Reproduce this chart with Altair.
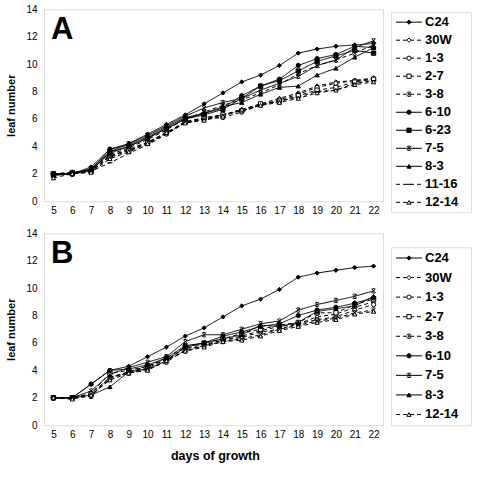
import altair as alt
import pandas as pd

days = list(range(5, 23))

# Panel A lines
series_a = ["C24", "30W", "1-3", "2-7", "3-8", "6-10", "6-23", "7-5", "8-3", "11-16", "12-14"]
a_c24 = [2.0, 2.0, 2.5, 3.8, 4.2, 4.9, 5.6, 6.3, 7.1, 7.9, 8.7, 9.2, 9.9, 10.8, 11.1, 11.3, 11.4, 11.5]
a_30w = [2.0, 2.0, 2.2, 3.3, 3.8, 4.3, 5.0, 5.8, 6.0, 6.3, 6.7, 7.1, 7.5, 7.9, 8.4, 8.7, 8.8, 9.0]
a_1_3 = [2.0, 2.1, 2.2, 3.2, 3.7, 4.2, 4.9, 5.8, 6.0, 6.1, 6.5, 7.0, 7.4, 7.8, 8.3, 8.6, 8.8, 8.9]
a_2_7 = [2.0, 2.1, 2.2, 3.3, 3.7, 4.3, 5.0, 5.8, 6.1, 6.3, 6.6, 7.1, 7.3, 7.7, 8.1, 8.3, 8.7, 8.9]
a_3_8 = [2.0, 2.0, 2.3, 3.4, 3.9, 4.5, 5.2, 6.0, 6.5, 7.0, 7.4, 7.9, 8.5, 9.3, 9.9, 10.3, 10.8, 11.4]
a_6_10 = [2.0, 2.0, 2.3, 3.8, 4.1, 4.7, 5.4, 6.1, 6.4, 6.8, 7.7, 8.4, 8.9, 9.9, 10.4, 10.7, 11.3, 11.2]
a_6_23 = [1.9, 2.0, 2.2, 3.6, 4.0, 4.6, 5.3, 6.0, 6.3, 6.7, 7.5, 8.4, 8.8, 9.5, 10.2, 10.6, 11.0, 10.8]
a_7_5 = [2.0, 2.0, 2.4, 3.6, 4.2, 4.8, 5.5, 6.2, 6.8, 7.2, 7.5, 8.1, 8.6, 9.1, 9.9, 10.3, 11.2, 11.7]
a_8_3 = [1.9, 2.0, 2.3, 3.5, 4.0, 4.6, 5.3, 6.0, 6.4, 6.9, 7.2, 7.8, 8.3, 8.4, 9.2, 9.7, 10.5, 11.2]
a_11_16 = [2.0, 2.0, 2.2, 2.8, 3.5, 4.1, 4.9, 5.7, 6.0, 6.3, 6.6, 7.0, 7.3, 7.6, 8.0, 8.1, 8.6, 8.8]
a_12_14 = [1.7, 2.0, 2.1, 3.1, 3.6, 4.2, 5.0, 5.7, 5.9, 6.2, 6.7, 7.0, 7.2, 7.5, 7.9, 8.1, 8.5, 8.7]
values_a = [a_c24, a_30w, a_1_3, a_2_7, a_3_8, a_6_10, a_6_23, a_7_5, a_8_3, a_11_16, a_12_14]

# Panel B lines
series_b = ["C24", "30W", "1-3", "2-7", "3-8", "6-10", "7-5", "8-3", "12-14"]
b_c24 = [2.0, 2.0, 3.0, 4.0, 4.3, 5.0, 5.7, 6.5, 7.1, 7.9, 8.7, 9.2, 9.9, 10.8, 11.1, 11.3, 11.5, 11.6]
b_30w = [2.0, 2.0, 2.3, 3.5, 3.9, 4.3, 4.8, 5.6, 5.9, 6.2, 6.5, 6.9, 7.2, 7.4, 7.9, 8.1, 8.6, 9.0]
b_1_3 = [2.0, 2.0, 2.2, 3.4, 3.9, 4.2, 4.8, 5.4, 5.8, 6.2, 6.4, 6.8, 7.0, 7.4, 7.7, 7.9, 8.4, 8.8]
b_2_7 = [2.0, 2.0, 2.3, 3.8, 4.0, 4.3, 4.9, 5.7, 6.0, 6.3, 6.7, 7.0, 7.3, 7.5, 8.2, 8.2, 8.8, 9.2]
b_3_8 = [2.0, 2.0, 2.1, 3.5, 3.8, 4.1, 4.6, 5.5, 5.8, 6.1, 6.3, 6.6, 7.0, 7.3, 7.6, 7.8, 8.2, 8.4]
b_6_10 = [2.0, 2.0, 3.0, 4.0, 4.1, 4.4, 4.9, 5.8, 6.0, 6.5, 6.8, 7.2, 7.4, 8.0, 8.4, 8.6, 8.9, 9.3]
b_7_5 = [2.0, 2.0, 2.5, 3.7, 4.2, 4.6, 5.0, 6.1, 6.6, 6.6, 7.0, 7.4, 7.6, 8.4, 8.8, 9.1, 9.4, 9.8]
b_8_3 = [2.0, 2.0, 2.2, 2.8, 3.9, 4.1, 4.7, 5.7, 6.0, 6.3, 6.6, 7.3, 7.2, 7.5, 8.3, 8.5, 8.7, 9.4]
b_12_14 = [2.0, 1.9, 2.2, 3.3, 3.8, 4.0, 4.7, 5.4, 5.7, 6.1, 6.2, 6.5, 6.9, 7.2, 7.5, 7.7, 8.1, 8.3]
values_b = [b_c24, b_30w, b_1_3, b_2_7, b_3_8, b_6_10, b_7_5, b_8_3, b_12_14]

y_ticks = [0, 2, 4, 6, 8, 10, 12, 14]

# marker glyphs
X_PATH = "M-1,-1L1,1M-1,1L1,-1M-0.6,-1L0.6,-1M-0.6,1L0.6,1"
DASH_PATH = "M-1.2,0L1.2,0"
SOLID = [1, 0]
DASHED = [4, 3]

styles = {
    "C24":   dict(shape="diamond", fill="black", size=18, dash=SOLID),
    "30W":   dict(shape="diamond", fill="white", size=18, dash=DASHED),
    "1-3":   dict(shape="circle", fill="white", size=16, dash=DASHED),
    "2-7":   dict(shape="square", fill="white", size=16, dash=DASHED),
    "3-8":   dict(shape=X_PATH, fill="white", size=14, dash=DASHED),
    "6-10":  dict(shape="circle", fill="black", size=20, dash=SOLID),
    "6-23":  dict(shape="square", fill="black", size=70, dash=SOLID),
    "7-5":   dict(shape=X_PATH, fill="white", size=14, dash=SOLID),
    "8-3":   dict(shape="triangle-up", fill="black", size=16, dash=SOLID),
    "11-16": dict(shape=DASH_PATH, fill="black", size=16, dash=DASHED),
    "12-14": dict(shape="triangle-up", fill="white", size=16, dash=DASHED),
}
styles_b_override = {"1-3": dict(shape="triangle-up", fill="white", size=16, dash=DASHED),
                     "2-7": dict(shape="square", fill="white", size=18, dash=SOLID)}

FONT = "Liberation Sans"


def long_frame(names, vals):
    rows = []
    for name, ys in zip(names, vals):
        for d, v in zip(days, ys):
            rows.append({"series": name, "day": d, "leaf": v})
    return pd.DataFrame(rows)


def encodings(names, st):
    return dict(
        strokeDash=alt.StrokeDash("series:N", scale=alt.Scale(domain=names, range=[st[n]["dash"] for n in names]), legend=None),
        shape=alt.Shape("series:N", scale=alt.Scale(domain=names, range=[st[n]["shape"] for n in names]), legend=None),
        fill=alt.Fill("series:N", scale=alt.Scale(domain=names, range=[st[n]["fill"] for n in names]), legend=None),
        size=alt.Size("series:N", scale=alt.Scale(domain=names, range=[st[n]["size"] for n in names]), legend=None),
    )


def panel(names, vals, letter, st):
    df = long_frame(names, vals)
    enc = encodings(names, st)
    x = alt.X("day:Q", scale=alt.Scale(domain=[4.5, 22.5], nice=False),
              axis=alt.Axis(values=days, labelPadding=4, title=None, grid=False, ticks=False,
                            domain=False, labelOverlap=False, labelFlush=False))
    y = alt.Y("leaf:Q", scale=alt.Scale(domain=[0, 14], nice=False),
              axis=alt.Axis(values=y_ticks, title="leaf number", titlePadding=9, labelPadding=7,
                            grid=False, ticks=False, domain=False,
                            labelOverlap=False, labelFlush=False))
    # both layers share one x/y definition, so the axes are identical
    base = alt.Chart(df).encode(x=x, y=y)
    lines = base.mark_line(color="black", strokeWidth=1).encode(
        detail="series:N", strokeDash=enc["strokeDash"])
    pts = base.mark_point(stroke="black", strokeWidth=1, opacity=1, filled=False).encode(
        shape=enc["shape"], fill=enc["fill"], size=enc["size"])
    tag = alt.Chart(pd.DataFrame({"t": [letter]})).mark_text(
        font=FONT, fontSize=31, fontWeight="bold", align="left", baseline="top", color="black"
    ).encode(text="t:N", x=alt.value(7), y=alt.value(6))
    return alt.layer(lines, pts, tag).properties(width=339, height=192)


def legend(names, st, height, pad):
    df = pd.DataFrame({"series": names})
    enc = encodings(names, st)
    y = alt.Y("series:N", sort=names, scale=alt.Scale(type="point", padding=pad), axis=None)
    base = alt.Chart(df)
    seg = base.mark_rule(color="black", strokeWidth=1).encode(
        x=alt.value(5), x2=alt.value(31), y=y, strokeDash=enc["strokeDash"])
    mk = base.mark_point(stroke="black", strokeWidth=1, opacity=1, filled=False).encode(
        x=alt.value(18), y=y, shape=enc["shape"], fill=enc["fill"], size=enc["size"])
    lbl = base.mark_text(font=FONT, fontSize=13, fontWeight="bold", align="left",
                         baseline="middle", color="black").encode(
        x=alt.value(34), y=y, text="series:N")
    return alt.layer(seg, mk, lbl).properties(width=80, height=height)


st_b = dict(styles)
st_b.update(styles_b_override)

row_a = alt.hconcat(panel(series_a, values_a, "A", styles),
                    legend(series_a, styles, 200, 0.55), spacing=6, center=True)
row_b = alt.hconcat(panel(series_b, values_b, "B", st_b),
                    legend(series_b, st_b, 178, 0.55), spacing=6, center=True)

chart = alt.vconcat(row_a, row_b, spacing=11).properties(
    padding={"left": 5, "top": 3, "right": 0, "bottom": 0},
    title=alt.TitleParams("days of growth", orient="bottom", anchor="middle", dx=-23,
                          font=FONT, fontSize=12.5, fontWeight="bold", color="black", offset=10),
).configure_view(stroke="black", strokeWidth=1.3).configure_axis(
    labelFont=FONT, labelFontSize=12.5, labelFontWeight="bold", labelColor="black",
    titleFont=FONT, titleFontSize=12.5, titleFontWeight="bold", titleColor="black",
    domain=False, ticks=False, grid=False, labelOverlap=False,
).configure(background="white")

chart.save("out.html", embed_options={"renderer": "svg", "actions": False})
